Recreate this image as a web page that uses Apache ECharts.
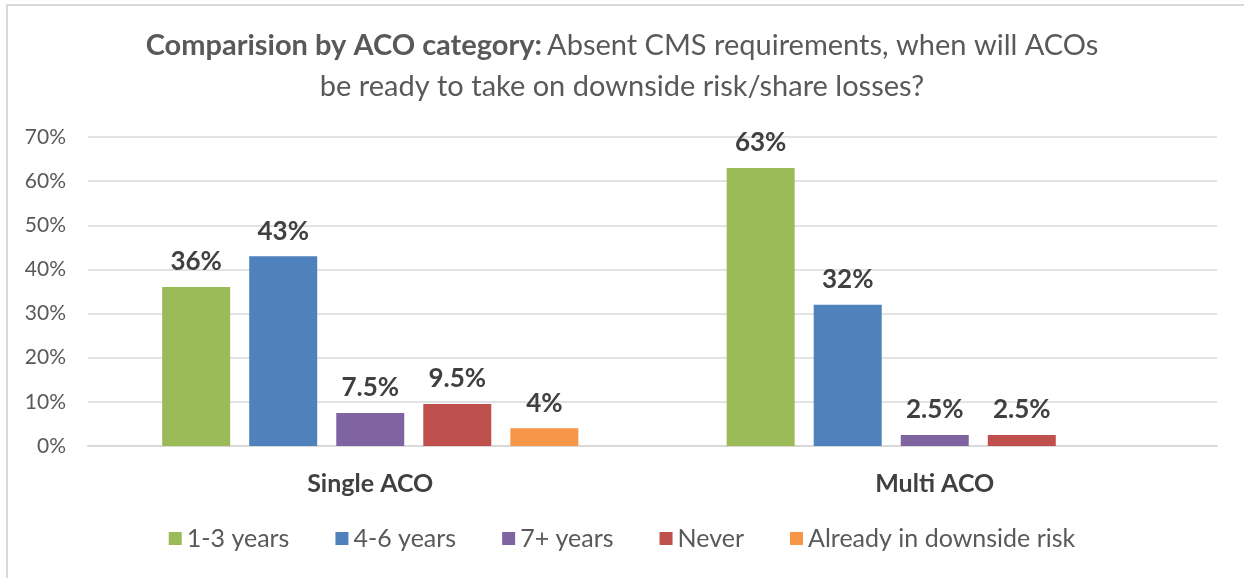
<!DOCTYPE html>
<html>
<head>
<meta charset="utf-8">
<script src="https://cdn.jsdelivr.net/npm/echarts@6/dist/echarts.min.js"></script>
<style>
  html, body { margin: 0; padding: 0; background: #fff; }
  #main { width: 1244px; height: 578px; }
</style>
</head>
<body>
<div id="main"></div>
<script>
var categories = ['Single ACO', 'Multi ACO'];
var seriesNames = ['1-3 years', '4-6 years', '7+ years', 'Never', 'Already in downside risk'];
var seriesColors = ['#9bbb59', '#4f81bd', '#8064a2', '#c0504d', '#f79646'];
var years13 = [36, 63];
var years46 = [43, 32];
var years7 = [7.5, 2.5];
var never = [9.5, 2.5];
var already = [4, '-'];
var yTicks = { min: 0, max: 70, interval: 10 };

var font = 'Lato, "Open Sans", sans-serif';
var chart = echarts.init(document.getElementById('main'));

var allData = [years13, years46, years7, never, already];
var series = seriesNames.map(function (name, i) {
  return {
    name: name,
    type: 'bar',
    data: allData[i],
    barWidth: 68,
    barGap: '28%',
    itemStyle: { color: seriesColors[i] },
    label: {
      show: true,
      position: 'top',
      distance: 12,
      formatter: '{c}%',
      color: '#404040',
      fontFamily: font,
      fontWeight: 'bold',
      fontSize: 26
    }
  };
});

var option = {
  animation: false,
  title: {
    left: 'center',
    top: 20,
    text: '{b|Comparision by ACO category:} {n|Absent CMS requirements, when will ACOs}\n{n|be ready to take on downside risk/share losses?}',
    textStyle: {
      fontWeight: 'normal',
      rich: {
        b: { fontFamily: font, fontWeight: 'bold', fontSize: 29, color: '#595959', lineHeight: 41 },
        n: { fontFamily: font, fontWeight: 'normal', fontSize: 29, color: '#595959', lineHeight: 41 }
      }
    }
  },
  graphic: [{
    type: 'rect',
    shape: { x: 7, y: 5, width: 1300, height: 620 },
    style: { fill: 'none', stroke: '#d9d9d9', lineWidth: 2 }
  }],
  legend: {
    bottom: 22,
    left: 'center',
    itemWidth: 13,
    itemHeight: 13,
    itemGap: 46,
    icon: 'rect',
    textStyle: { fontFamily: font, fontSize: 25, color: '#595959' },
    data: seriesNames
  },
  grid: { left: 88, right: 27, top: 137, bottom: 132 },
  xAxis: {
    type: 'category',
    data: categories,
    axisLine: { lineStyle: { color: '#d9d9d9', width: 2 } },
    axisTick: { show: false },
    axisLabel: {
      margin: 25,
      fontFamily: font,
      fontWeight: 'bold',
      fontSize: 25,
      color: '#404040'
    }
  },
  yAxis: {
    type: 'value',
    min: yTicks.min,
    max: yTicks.max,
    interval: yTicks.interval,
    axisLine: { show: false },
    axisTick: { show: false },
    splitLine: { lineStyle: { color: '#d9d9d9', width: 1.5 } },
    axisLabel: {
      formatter: '{value}%',
      margin: 22,
      fontFamily: font,
      fontSize: 21,
      color: '#595959'
    }
  },
  series: series
};

chart.setOption(option);
</script>
</body>
</html>
